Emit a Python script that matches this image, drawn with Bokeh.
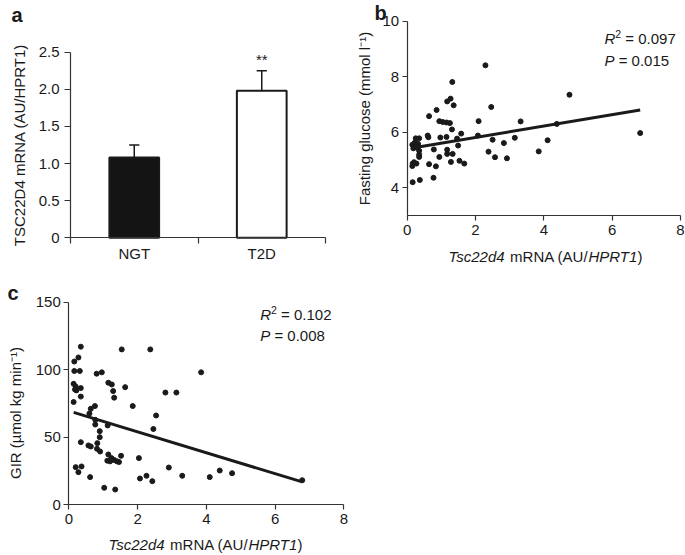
import numpy as np
from bokeh.plotting import figure
from bokeh.layouts import column, row
from bokeh.models import Range1d, FixedTicker, Label, PrintfTickFormatter
from bokeh.embed import file_html
from bokeh.resources import INLINE

INK = "#1a1a1a"
AXIS = "#333333"
FONT = "Liberation Sans"
BASE_FIX = 5.5   # bokeh's "alphabetic" anchor sits this far below the true baseline

# ---------------- data ----------------
# panel a
groups = ["NGT", "T2D"]
group_pos = [0.5, 1.5]
group_means = [1.08, 1.98]
group_sem = [0.17, 0.27]
group_fill = ["#141414", "#ffffff"]
group_sig = ["", "**"]
a_yticks = [0, 0.5, 1.0, 1.5, 2.0, 2.5]

# panel b: Tsc22d4 mRNA vs fasting glucose
b_x = [0.16, 0.37, 0.77, 0.15, 0.16, 0.20, 0.27, 0.64, 0.84, 1.28, 1.53, 1.67,
       0.35, 0.35, 0.94, 1.17, 1.33, 0.78, 1.17, 0.35, 1.49, 2.38, 2.57, 2.92, 3.85,
       0.15, 0.22, 0.28, 0.32, 0.18, 0.25, 0.35, 0.60, 0.62, 0.97, 1.15, 1.46, 1.58,
       2.07, 2.50, 2.83, 3.15, 4.11, 1.31, 0.94, 1.04, 1.15, 1.25, 2.09, 3.32,
       0.64, 0.86, 2.46, 1.36, 1.17, 1.27, 1.32, 2.29, 4.75, 6.82, 4.38]
b_y = [4.20, 4.28, 4.36, 4.78, 4.87, 4.92, 4.87, 4.85, 4.77, 4.93, 4.97, 4.87,
       5.11, 5.19, 5.11, 5.22, 5.22, 5.38, 5.37, 5.33, 5.52, 5.30, 5.10, 5.06, 5.31,
       5.55, 5.62, 5.45, 5.58, 5.42, 5.78, 5.78, 5.88, 5.82, 5.81, 5.83, 5.77, 5.95,
       5.88, 5.73, 5.61, 5.80, 5.71, 6.10, 6.40, 6.37, 6.35, 6.33, 6.40, 6.39,
       6.58, 6.80, 6.91, 6.97, 7.11, 7.21, 7.81, 8.41, 7.35, 5.97, 6.30]
b_fit = [5.40, 0.205]          # intercept, slope
b_r2 = "0.097"
b_p = "0.015"
b_yticks = [4, 6, 8, 10]

# panel c: Tsc22d4 mRNA vs GIR
c_x = [0.35, 0.28, 0.16, 0.16, 0.32, 1.54, 2.37, 3.85, 0.81, 0.96,
       0.14, 0.20, 0.18, 0.22, 0.35, 1.15, 1.25, 1.29, 1.32, 1.64,
       2.81, 3.13, 0.14, 0.35, 0.76, 1.86, 0.64, 0.60, 2.54, 0.77,
       0.77, 1.13, 2.46, 0.90, 0.90, 0.35, 0.57, 0.64, 0.83, 0.82,
       0.91, 1.15, 1.52, 2.04, 1.12, 1.20, 1.27, 1.32, 1.40, 1.46,
       0.20, 0.28, 0.37, 0.62, 2.07, 2.26, 2.43, 2.91, 3.30, 4.10,
       4.39, 4.75, 6.79, 1.03, 1.35, 1.24]
c_y = [117, 109, 106, 99, 99, 115, 115, 98, 97, 98,
       89.5, 87.5, 85.3, 84.6, 86.3, 90.3, 89, 84.1, 79.2, 87,
       83, 83, 76, 80, 73, 73, 71, 67.5, 66, 62.8,
       59.3, 58.6, 56, 54.4, 49.9, 46.2, 43.8, 43, 45.5, 41.3,
       39.3, 37.1, 36.1, 34.4, 32.5, 32, 33.5, 33, 32, 31.5,
       27.7, 24, 28.2, 20.3, 19.3, 21.3, 17.3, 27.4, 21.3, 20.3,
       25.2, 23.2, 18, 12.4, 11.1, 34.4]
c_fit = [69.4, -7.75]          # intercept, slope
c_r2 = "0.102"
c_p = "0.008"
c_yticks = [0, 50, 100, 150]
bc_xticks = [0, 2, 4, 6, 8]

# ---------------- helpers ----------------
ADV = {"T": .611, "s": .5, "c": .5, "2": .556, "d": .556, "4": .556, " ": .278,
       "m": .833, "R": .722, "N": .722, "A": .667, "(": .333, "U": .722, "/": .278,
       "H": .722, "P": .667, "1": .556, ")": .333, "=": .584, "0": .556, ".": .278}


def tw(s, size):
    return size * sum(ADV.get(ch, 0.556) for ch in s)


def make_panel(w, h, px_box, data_box):
    """Figure whose frame fills the canvas; the data box lands on px_box
    (left, top, right, bottom in canvas pixels); axes are pinned to the box."""
    l, t, r, b = px_box
    x0, x1, y0, y1 = data_box
    sx = (r - l) / (x1 - x0)
    sy = (b - t) / (y1 - y0)
    p = figure(width=w, height=h,
               x_range=Range1d(x0 - l / sx, x1 + (w - r) / sx),
               y_range=Range1d(y0 - (h - b) / sy, y1 + t / sy),
               output_backend="svg", toolbar_location=None,
               min_border=0, min_border_left=0, min_border_right=0,
               min_border_top=0, min_border_bottom=0)
    p.outline_line_color = None
    p.xgrid.visible = False
    p.ygrid.visible = False
    for ax in list(p.xaxis) + list(p.yaxis):
        ax.axis_line_color = AXIS
        ax.axis_line_width = 1.2
        ax.major_tick_line_color = AXIS
        ax.major_tick_line_width = 1.2
        ax.major_tick_out = 5
        ax.major_tick_in = 0
        ax.minor_tick_line_color = None
        ax.major_label_text_font = FONT
        ax.major_label_text_font_size = "15px"
        ax.major_label_text_color = INK
    for ax in p.xaxis:
        ax.fixed_location = y0
        ax.bounds = (x0, x1)
    for ax in p.yaxis:
        ax.fixed_location = x0
        ax.bounds = (y0, y1)
    return p


def label(p, x, y_top, text, size=15, style="normal", align="left", angle=0.0):
    # x from the canvas left, y_top (text baseline) from the canvas top
    if angle:
        x -= BASE_FIX
    else:
        y_top -= BASE_FIX
    p.add_layout(Label(x=x, y=p.height - y_top, x_units="screen", y_units="screen",
                       text=text, text_font=FONT, text_font_size=f"{size}px",
                       text_font_style=style, text_color=INK, text_align=align,
                       text_baseline="alphabetic", angle=angle))


def rich_center(p, cx, y_top, pieces, size=15):
    x = cx - sum(tw(t, size) for t, _ in pieces) / 2
    for t, st in pieces:
        if t.strip():
            label(p, x, y_top, t, size, st)
        x += tw(t, size)


def stats(p, x, y_r, y_p, r2, pv, size=15):
    label(p, x, y_r, "R", size, "italic")
    xs = x + tw("R", size)
    label(p, xs, y_r - 4.5, "2", size * 0.7)
    xe = xs + tw("2", size * 0.7) + tw(" ", size)
    label(p, xe, y_r, "= " + r2, size)
    label(p, x, y_p, "P", size, "italic")
    label(p, x + tw("P ", size), y_p, "= " + pv, size)


x_pieces = [("Tsc22d4", "italic"), (" ", "normal"), ("mRNA (AU/", "normal"),
            ("HPRT1", "italic"), (")", "normal")]

# ---------------- panel a ----------------
pa = make_panel(340, 280, (70, 51.7, 325, 237.3), (0, 2, 0, 2.5))
tops = [m + s for m, s in zip(group_means, group_sem)]
pa.vbar(x=group_pos, top=group_means, bottom=0, width=0.39,
        fill_color=group_fill, line_color=INK, line_width=2)
pa.segment(x0=group_pos, y0=group_means, x1=group_pos, y1=tops,
           line_color=INK, line_width=1.5)
cap = 0.04
pa.segment(x0=[g - cap for g in group_pos], y0=tops,
           x1=[g + cap for g in group_pos], y1=tops, line_color=INK, line_width=1.5)
for g, t, s in zip(group_pos, tops, group_sig):
    if s:
        pa.add_layout(Label(x=g, y=t, y_offset=6 + BASE_FIX, text=s, text_font=FONT,
                            text_font_size="15px", text_color=INK,
                            text_align="center", text_baseline="alphabetic"))
pa.xaxis.ticker = FixedTicker(ticks=group_pos,
                              minor_ticks=list(range(len(groups) + 1)))
pa.xaxis.major_label_overrides = {pos: g for pos, g in zip(group_pos, groups)}
pa.xaxis.major_tick_line_color = None
pa.xaxis.major_tick_out = 0
pa.xaxis.major_label_standoff = 1
pa.xaxis.minor_tick_line_color = AXIS
pa.xaxis.minor_tick_line_width = 1.2
pa.xaxis.minor_tick_out = 6
pa.xaxis.minor_tick_in = 0
pa.yaxis.ticker = FixedTicker(ticks=a_yticks)
pa.yaxis.formatter = PrintfTickFormatter(format="%.1f")
pa.yaxis.major_label_overrides = {0: "0"}
pa.yaxis.major_tick_out = 6
pa.yaxis.major_label_standoff = 5
label(pa, 24.5, 144.5, "TSC22D4 mRNA (AU/HPRT1)", angle=np.pi / 2, align="center")
label(pa, 11, 20, "a", 20, "bold")

# ---------------- panel b ----------------
pb = make_panel(345, 280, (66.7, 20.7, 340, 215), (0, 8, 3, 10))
pb.scatter(b_x, b_y, size=5, color=INK)
bfx = np.array([min(b_x), max(b_x)])
pb.line(bfx, b_fit[0] + b_fit[1] * bfx, line_color=INK, line_width=3)
pb.yaxis.ticker = FixedTicker(ticks=b_yticks)
pb.xaxis.ticker = FixedTicker(ticks=bc_xticks)
pb.yaxis.major_label_standoff = 3
pb.xaxis.major_label_standoff = 4
label(pb, 29.5, 118, "Fasting glucose (mmol l\u207b\u00b9)", angle=np.pi / 2, align="center")
rich_center(pb, 205, 261, x_pieces)
stats(pb, 264, 43.3, 65, b_r2, b_p)
label(pb, 34, 18.3, "b", 20, "bold")

# ---------------- panel c ----------------
pc = make_panel(350, 275, (68.3, 21.7, 343.3, 224), (0, 8, 0, 150))
pc.scatter(c_x, c_y, size=5, color=INK)
cfx = np.array([min(c_x), max(c_x)])
pc.line(cfx, c_fit[0] + c_fit[1] * cfx, line_color=INK, line_width=3)
pc.yaxis.ticker = FixedTicker(ticks=c_yticks)
pc.xaxis.ticker = FixedTicker(ticks=bc_xticks)
pc.yaxis.major_label_standoff = 3
pc.xaxis.major_label_standoff = 4
label(pc, 20.7, 132.5, "GIR (\u00b5mol kg min\u207b\u00b9)", angle=np.pi / 2, align="center")
rich_center(pc, 205, 269, x_pieces)
stats(pc, 259.7, 39, 60, c_r2, c_p)
label(pc, 7, 18.3, "c", 20, "bold")

layout = column(row(pa, pb), pc)
open("out.html", "w").write(file_html(layout, INLINE))
